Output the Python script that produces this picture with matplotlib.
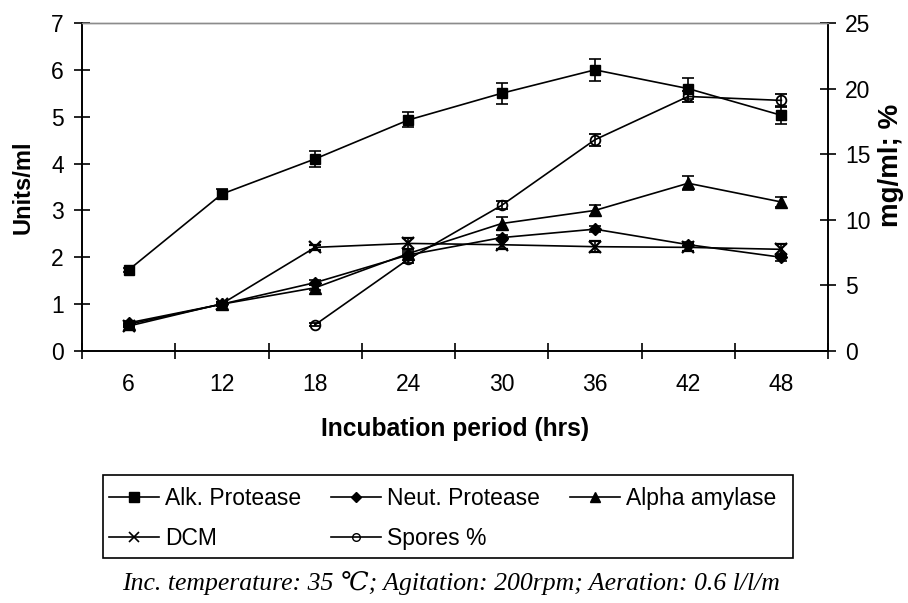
import numpy as np
import matplotlib
matplotlib.use("Agg")
import matplotlib.pyplot as plt
from matplotlib.ticker import FixedLocator, NullFormatter
from matplotlib.lines import Line2D
from matplotlib.patches import Rectangle

# ---- data ----
hours = ["6", "12", "18", "24", "30", "36", "42", "48"]
alk = [1.73, 3.35, 4.10, 4.93, 5.50, 6.00, 5.60, 5.03]
alk_err = [0.05, 0.10, 0.17, 0.16, 0.22, 0.24, 0.22, 0.19]
neut = [0.60, 1.00, 1.46, 2.05, 2.42, 2.60, 2.27, 2.00]
neut_err = [0.03, 0.03, 0.05, 0.05, 0.06, 0.06, 0.06, 0.07]
amyl = [0.57, 1.00, 1.35, 2.08, 2.72, 3.00, 3.58, 3.18]
amyl_err = [0.03, 0.03, 0.05, 0.05, 0.13, 0.12, 0.15, 0.10]
dcm = [1.9, 3.6, 7.9, 8.2, 8.1, 7.95, 7.9, 7.75]          # right axis (mg/ml)
dcm_err = [0.1, 0.1, 0.2, 0.45, 0.35, 0.4, 0.3, 0.4]
spores = [np.nan, np.nan, 2.0, 7.0, 11.1, 16.1, 19.4, 19.1]  # right axis (%)
spores_err = [0, 0, 0.1, 0.3, 0.3, 0.45, 0.45, 0.5]

left_ticks = [0, 1, 2, 3, 4, 5, 6, 7]
right_ticks = [0, 5, 10, 15, 20, 25]

plt.rcParams['font.family'] = ['Liberation Sans', 'DejaVu Sans']

W, H = 908, 603
fig = plt.figure(figsize=(W / 100, H / 100), dpi=100)
fig.subplots_adjust(left=82 / W, right=828 / W, top=1 - 23 / H, bottom=1 - 351 / H)
ax = fig.add_subplot(111)
ax2 = ax.twinx()

x = np.arange(len(hours))
lw = 1.2
ekw = dict(ecolor='black', elinewidth=lw, capsize=4, capthick=lw)

ax.errorbar(x, alk, yerr=alk_err, color='black', lw=lw, marker='s', ms=7.5, **ekw)
ax.errorbar(x, neut, yerr=neut_err, color='black', lw=lw, marker='D', ms=6.5, **ekw)
ax.errorbar(x, amyl, yerr=amyl_err, color='black', lw=lw, marker='^', ms=8.5, **ekw)
ax2.errorbar(x, dcm, yerr=dcm_err, color='black', lw=lw, marker='x', ms=8.5, mew=1.6, **ekw)
ax2.errorbar(x, spores, yerr=spores_err, color='black', lw=lw, marker='o', ms=7,
             mfc='none', mew=1.3, **ekw)

ax.set_xlim(-0.5, len(hours) - 0.5)
ax.set_ylim(0, 7)
ax2.set_ylim(0, 25)
ax.set_yticks(left_ticks)
ax2.set_yticks(right_ticks)
ax.set_xticks(x)
ax.set_xticklabels(hours)
ax.xaxis.set_minor_locator(FixedLocator(np.arange(-0.5, len(hours), 1.0)))
ax.xaxis.set_minor_formatter(NullFormatter())

fs = 16.5
ax.tick_params(axis='x', which='major', length=0, labelsize=fs, pad=15.5)
ax.tick_params(axis='x', which='minor', direction='inout', length=11, width=lw)
ax.tick_params(axis='y', direction='inout', length=11, width=lw, labelsize=fs, pad=7.5)
ax2.tick_params(axis='y', direction='inout', length=11, width=lw, labelsize=fs, pad=7)

for a in (ax, ax2):
    for s in ('left', 'bottom', 'right'):
        a.spines[s].set_linewidth(lw)
        a.spines[s].set_color('black')
    a.spines['top'].set_color('#8c8c8c')
    a.spines['top'].set_linewidth(1.0)

fig.text(23 / W, 1 - 187 / H, 'Units/ml', rotation=90, ha='center', va='center',
         fontsize=17, fontweight='bold')
fig.text(891 / W, 1 - 165 / H, 'mg/ml; %', rotation=90, ha='center', va='center',
         fontsize=20, fontweight='bold')
fig.text(455 / W, 1 - 429 / H, 'Incubation period (hrs)', ha='center', va='center',
         fontsize=17.7, fontweight='bold')

labels = ['Alk. Protease', 'DCM', 'Neut. Protease', 'Spores %', 'Alpha amylase']
leg_h = [Line2D([], [], color='black', lw=lw, marker=m, ms=s, mfc=fc, mew=mw)
         for m, s, fc, mw in [('s', 6.5, 'black', 1), ('x', 7, 'black', 1.2), ('D', 5.5, 'black', 1),
                              ('o', 5.5, 'none', 1), ('^', 7, 'black', 1)]]
fig.legend(leg_h, labels, ncol=3, loc='upper left',
           bbox_to_anchor=(109 / W, 1 - 487 / H), frameon=False,
           fontsize=16.5, handlelength=2.2, handletextpad=0.25, columnspacing=1.3,
           borderaxespad=0, labelspacing=0.75, borderpad=0)
fig.patches.append(Rectangle((103 / W, 1 - 558 / H), 690 / W, 83 / H,
                             transform=fig.transFigure, fill=False,
                             edgecolor='black', linewidth=lw))

fig.text(451 / W, 1 - 583 / H,
         'Inc. temperature: 35 \u2103; Agitation: 200rpm; Aeration: 0.6 l/l/m',
         ha='center', va='center', fontsize=18.5, style='italic',
         family=['Liberation Serif', 'DejaVu Serif'])

fig.savefig('out.png', dpi=100)
